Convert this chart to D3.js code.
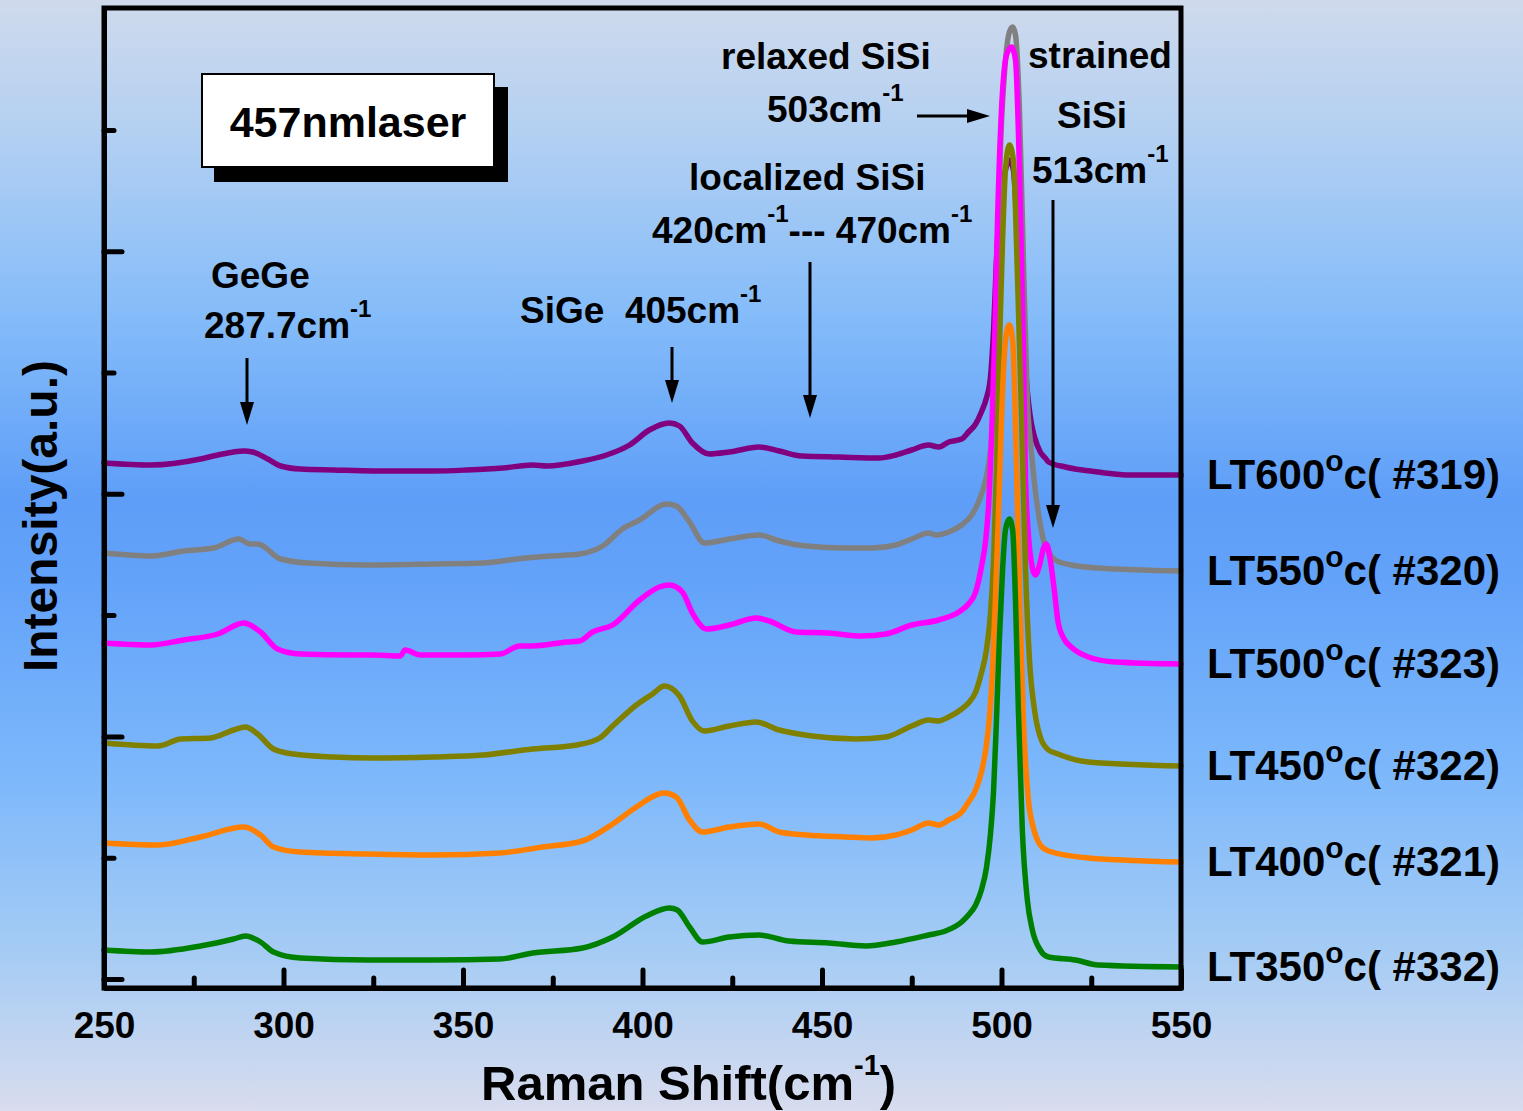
<!DOCTYPE html>
<html>
<head>
<meta charset="utf-8">
<script src="https://cdn.jsdelivr.net/npm/d3@7"></script>
<style>
  html, body { margin: 0; padding: 0; }
  body { width: 1523px; height: 1111px; overflow: hidden; }
  text { font-family: "Liberation Sans", Arial, sans-serif; font-weight: bold; fill: #000; }
</style>
</head>
<body>
<svg id="chart" width="1523" height="1111"></svg>
<script>
// Raman spectra, 457 nm laser. [shift (cm-1), intensity (a.u., offset stacked)]
const lt600 = [[250,516],[263.1,514],[276.9,520],[281.7,524],[288.9,528],[291.4,527],[295.6,520],[299.2,513],[304.7,510],[313.9,509],[325,508],[341.7,508],[351.1,509],[361.1,511],[369.4,514],[373.3,513],[383.3,518],[390,524],[396.4,534],[401.9,549],[407.5,556],[410.3,553],[413.9,536],[418.6,525],[424.2,527],[432.5,532],[438.1,528],[444.4,523],[454.7,522],[465.8,521],[470.6,524],[475,529],[479.7,534],[482.5,532],[485.3,537],[488.9,540],[490.8,547],[492.8,555],[494.4,567],[495.8,581],[496.9,601],[497.8,649],[498.6,719],[499.7,779],[501.1,809],[502.2,819],[503.3,809],[504.4,749],[505.6,669],[506.9,599],[508.3,556],[509.2,542],[510.8,527],[512.2,521],[513.1,517],[517.8,512],[526.9,507],[536.1,504],[550,504]]

const lt550 = [[250,426],[263.1,423],[272.2,428],[280.6,431],[287.5,440],[290.8,435],[292.8,435],[299.2,420],[306.7,416],[323.3,414],[341.7,415],[355.6,416],[365,420],[378.9,424],[382.5,425],[388.9,433],[394.4,450],[399.2,459],[406.7,475],[409.4,473],[413.1,457],[417.2,436],[424.2,440],[432.5,444],[438.1,438],[445.6,433],[456.7,431],[463.9,431],[470.6,434],[475,440],[479.7,446],[481.7,444],[485.3,447],[488.9,454],[491.7,464],[493.6,477],[495,491],[496.4,514],[497.2,539],[498.1,599],[498.9,709],[499.7,829],[500.8,904],[502.2,947],[503.1,952],[503.9,944],[505,869],[506.1,719],[507.2,579],[508.3,529],[509.4,489],[510.6,459],[511.7,439],[513.1,427],[515,419],[519.4,414],[526.9,411],[550,408]]

const lt500 = [[250,336],[263.1,334],[272.2,339],[281.7,345],[288.9,356],[293.6,347],[298.3,330],[304.7,325],[318.6,324],[325,324],[332.5,323],[333.9,329],[338.1,324],[351.1,324],[360.3,325],[365.8,333],[369.4,333],[378.9,337],[382.5,338],[386.1,347],[391.7,354],[399.2,379],[404.7,392],[407.5,394],[411.1,387],[413.9,366],[417.8,350],[424.2,354],[431.7,361],[435.3,358],[442.8,347],[451.9,346],[461.1,343],[467.8,345],[475,354],[482.5,359],[488.1,367],[490.8,375],[492.8,387],[494.4,412],[495.6,439],[496.4,474],[497.2,539],[498.1,639],[498.9,759],[500,869],[501.4,924],[502.8,932],[503.9,919],[505,809],[506.1,629],[506.7,499],[507.5,444],[508.6,411],[509.4,404],[510.6,414],[511.7,431],[512.5,435],[513.6,419],[514.7,389],[515.8,356],[517.8,338],[519.4,332],[524.2,322],[531.7,317],[550,315]]

const lt450 = [[250,236],[265,233],[271.4,240],[279.7,241],[286.1,249],[289.4,252],[292.8,245],[297.2,230],[302.8,225],[313.9,222],[325,221],[341.7,222],[355.6,224],[369.4,230],[381.7,234],[388.1,241],[391.7,253],[398.3,274],[402.8,285],[406.1,293],[410.3,283],[413.9,258],[417.2,248],[424.2,253],[431.7,257],[438.1,249],[447.2,243],[459.4,240],[467.8,242],[475,253],[479.7,259],[482.5,258],[485.3,262],[488.9,270],[490.8,276],[492.8,287],[494.4,306],[495.8,329],[496.9,364],[497.8,419],[498.6,509],[499.4,629],[500.3,739],[501.1,809],[502.2,834],[503.3,819],[504.4,709],[505.6,559],[506.7,409],[507.8,319],[509.2,269],[510.8,242],[513.1,229],[515,226],[524.2,217],[550,213]]

const lt400 = [[250,136],[265,134],[276.9,142],[288.9,152],[293.6,144],[297.2,132],[304.7,127],[323.3,125],[341.7,124],[360.3,126],[372.2,132],[383.3,138],[391.7,155],[398.3,172],[406.1,186],[409.4,182],[413.1,159],[416.7,147],[424.2,152],[432.5,155],[438.1,147],[445.6,144],[456.7,142],[463.9,141],[470.6,144],[475,149],[479.7,156],[482.5,154],[485.3,159],[488.9,167],[490.8,177],[492.8,189],[494.4,207],[495.6,229],[496.7,264],[497.5,309],[498.3,379],[499.2,469],[500,559],[500.8,624],[501.7,651],[502.2,654],[503.1,639],[504.2,509],[505,389],[506.1,259],[507.5,179],[508.9,151],[510.8,134],[513.1,128],[524.2,121],[550,117]]

const lt350 = [[250,29],[263.1,27],[276.9,33],[286.1,40],[289.4,43],[293.6,37],[297.2,27],[304.7,21],[323.3,19],[341.7,19],[360.3,20],[369.4,26],[383.3,31],[391.7,42],[401.1,63],[407.5,71],[409.7,69],[413.1,52],[416.7,37],[424.2,42],[432.5,44],[440.8,38],[451.9,36],[462.2,33],[470.6,37],[479.7,44],[484.4,48],[488.9,57],[490.8,64],[492.8,74],[494.4,89],[495.8,111],[496.9,144],[497.8,189],[498.6,259],[499.4,339],[500.3,409],[501.1,449],[502.2,460],[503.1,449],[503.9,379],[504.7,269],[505.8,149],[507.2,79],[508.6,49],[510.8,29],[513.1,22],[520.6,19],[526.9,14],[550,12]]

const sampleNames = ['LT600', 'LT550', 'LT500', 'LT450', 'LT400', 'LT350']
const sampleIds = ['#319', '#320', '#323', '#322', '#321', '#332']
const sampleColors = ['#800080', '#808080', '#ff00ff', '#808000', '#ff8000', '#008000']
const spectra = [lt600, lt550, lt500, lt450, lt400, lt350]

const xMajorTicks = [250, 300, 350, 400, 450, 500, 550]
const xMinorTicks = [275, 325, 375, 425, 475, 525]
const yTickStep = 121.3

const W = 1523
const H = 1111
const plot = { left: 104, right: 1181, top: 8, bottom: 988 }

const svg = d3.select('#chart')

// page background
const defs = svg.append('defs')
const grad = defs.append('linearGradient')
  .attr('id', 'bg')
  .attr('x1', 0).attr('y1', 0).attr('x2', 0).attr('y2', 1)
;[
  [0, '#cfdaec'],
  [0.12, '#b3d0f2'],
  [0.28, '#85bcf9'],
  [0.45, '#5e9ef8'],
  [0.52, '#62a2f9'],
  [0.7, '#7db8fb'],
  [0.86, '#a6ccf4'],
  [1, '#d8dcee'],
].forEach(([o, c]) => grad.append('stop').attr('offset', o).attr('stop-color', c))

svg.append('rect').attr('width', W).attr('height', H).attr('fill', 'url(#bg)')

const x = d3.scaleLinear().domain([250, 550]).range([plot.left, plot.right])
const y = d3.scaleLinear().domain([-9, 971]).range([plot.bottom, plot.top])

// spectra (top trace first so lower traces sit on top at the Si peak)
const line = d3.line()
  .x(d => x(d[0]))
  .y(d => y(d[1]))
  .curve(d3.curveMonotoneX)

svg.append('g')
  .selectAll('path')
  .data(spectra)
  .join('path')
  .attr('d', line)
  .attr('fill', 'none')
  .attr('stroke', (d, i) => sampleColors[i])
  .attr('stroke-width', 5.5)
  .attr('stroke-linejoin', 'round')
  .attr('stroke-linecap', 'round')

// frame
svg.append('rect')
  .attr('x', plot.left)
  .attr('y', plot.top)
  .attr('width', plot.right - plot.left)
  .attr('height', plot.bottom - plot.top)
  .attr('fill', 'none')
  .attr('stroke', '#000')
  .attr('stroke-width', 5)

const styleAxis = g => {
  g.select('.domain').attr('stroke-width', 5)
  g.selectAll('.tick line').attr('stroke-width', 5).attr('stroke-linecap', 'round')
}

svg.append('g')
  .attr('transform', `translate(0,${plot.bottom})`)
  .call(d3.axisBottom(x).tickValues(xMajorTicks).tickSize(-18).tickSizeOuter(0).tickPadding(24))
  .call(styleAxis)
  .call(g => g.selectAll('.tick text')
    .attr('font-size', 37)
    .attr('font-family', '"Liberation Sans", Arial, sans-serif')
    .attr('font-weight', 'bold'))

svg.append('g')
  .attr('transform', `translate(0,${plot.bottom})`)
  .call(d3.axisBottom(x).tickValues(xMinorTicks).tickSize(-10).tickSizeOuter(0).tickFormat(''))
  .call(styleAxis)

const yTicks = d3.range(8).map(k => k * yTickStep)
svg.append('g')
  .attr('transform', `translate(${plot.left},0)`)
  .call(d3.axisLeft(y).tickValues(yTicks.filter((d, i) => i % 2 === 0)).tickSize(-18).tickSizeOuter(0).tickFormat(''))
  .call(styleAxis)
svg.append('g')
  .attr('transform', `translate(${plot.left},0)`)
  .call(d3.axisLeft(y).tickValues(yTicks.filter((d, i) => i % 2 === 1)).tickSize(-10).tickSizeOuter(0).tickFormat(''))
  .call(styleAxis)

// axis titles
const xTitle = svg.append('text')
  .attr('x', 481)
  .attr('y', 1100)
  .attr('font-size', 49)
xTitle.append('tspan').text('Raman Shift(cm')
xTitle.append('tspan').attr('font-size', 29).attr('dy', -25).text('-1')
xTitle.append('tspan').attr('dy', 25).text(')')

svg.append('text')
  .attr('transform', 'translate(57,516) rotate(-90)')
  .attr('text-anchor', 'middle')
  .attr('font-size', 48)
  .text('Intensity(a.u.)')

// sample labels next to each trace end
const labels = svg.append('g')
  .selectAll('text')
  .data(spectra)
  .join('text')
  .attr('x', 1207)
  .attr('y', d => y(d[d.length - 1][1]) + 14)
  .attr('font-size', 42)
labels.append('tspan').text((d, i) => sampleNames[i])
labels.append('tspan').attr('font-size', 30).attr('dy', -18).text('o')
labels.append('tspan').attr('dy', 18).text((d, i) => `c( ${sampleIds[i]})`)

// laser box
svg.append('rect').attr('x', 214).attr('y', 87).attr('width', 294).attr('height', 95).attr('fill', '#000')
svg.append('rect').attr('x', 202).attr('y', 74).attr('width', 292).attr('height', 93)
  .attr('fill', '#fff').attr('stroke', '#000').attr('stroke-width', 2)
svg.append('text').attr('x', 348).attr('y', 137).attr('text-anchor', 'middle')
  .attr('font-size', 43).text('457nmlaser')

// peak annotations; parts are plain strings or ['-1'] for a superscript
const note = (x0, y0, parts) => {
  const t = svg.append('text').attr('x', x0).attr('y', y0).attr('font-size', 37)
    .attr('xml:space', 'preserve')
  let raised = false
  parts.forEach(p => {
    const isSup = Array.isArray(p)
    const s = t.append('tspan').text(isSup ? p[0] : p)
    if (isSup) {
      s.attr('font-size', 24).attr('dy', -21)
      raised = true
    } else if (raised) {
      s.attr('dy', 21)
      raised = false
    }
  })
}

note(211, 288, ['GeGe'])
note(204, 338, ['287.7cm', ['-1']])
note(520, 323, ['SiGe\u00a0\u00a0405cm', ['-1']])
note(689, 190, ['localized SiSi'])
note(652, 243, ['420cm', ['-1'], '--- 470cm', ['-1']])
note(721, 69, ['relaxed SiSi'])
note(767, 122, ['503cm', ['-1']])
note(1028, 68, ['strained'])
note(1057, 128, ['SiSi'])
note(1032, 183, ['513cm', ['-1']])

const arrow = (x1, y1, x2, y2) => {
  const len = Math.hypot(x2 - x1, y2 - y1)
  const ux = (x2 - x1) / len
  const uy = (y2 - y1) / len
  const head = 23
  const half = 7
  const bx = x2 - ux * head
  const by = y2 - uy * head
  svg.append('line')
    .attr('x1', x1).attr('y1', y1).attr('x2', bx).attr('y2', by)
    .attr('stroke', '#000').attr('stroke-width', 3)
  svg.append('path')
    .attr('d', `M${x2},${y2}L${bx - uy * half},${by + ux * half}L${bx + uy * half},${by - ux * half}Z`)
    .attr('fill', '#000')
}

arrow(247, 358, 247, 425)
arrow(672, 347, 672, 403)
arrow(810, 262, 810, 418)
arrow(917, 116, 990, 116)
arrow(1053, 200, 1053, 528)
</script>
</body>
</html>
